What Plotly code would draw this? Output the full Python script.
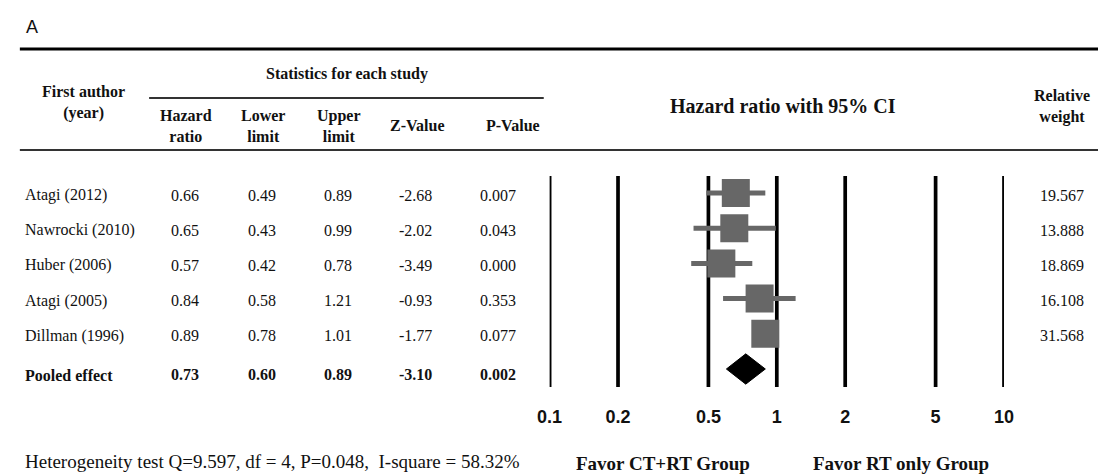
import numpy as np
import plotly.graph_objects as go

W, H = 1108, 476

# ---- study data ----
studies = ["Atagi (2012)", "Nawrocki (2010)", "Huber (2006)", "Atagi (2005)", "Dillman (1996)"]
hazard_ratio = [0.66, 0.65, 0.57, 0.84, 0.89]
lower_limit = [0.49, 0.43, 0.42, 0.58, 0.78]
upper_limit = [0.89, 0.99, 0.78, 1.21, 1.01]
z_value = [-2.68, -2.02, -3.49, -0.93, -1.77]
p_value = [0.007, 0.043, 0.000, 0.353, 0.077]
relative_weight = [19.567, 13.888, 18.869, 16.108, 31.568]

pooled_label = "Pooled effect"
pooled_hr = 0.73
pooled_lower = 0.60
pooled_upper = 0.89
pooled_z = -3.10
pooled_p = 0.002

tick_values = [0.1, 0.2, 0.5, 1, 2, 5, 10]
tick_labels = ["0.1", "0.2", "0.5", "1", "2", "5", "10"]

heterogeneity = "Heterogeneity test Q=9.597, df = 4, P=0.048,  I-square = 58.32%"
favor_left = "Favor CT+RT Group"
favor_right = "Favor RT only Group"

# ---- layout geometry (pixels) ----
ROW_TOP = 193.0      # centre of first study row
ROW_PITCH = 35.2     # distance between rows
PLOT_BOTTOM = 400.0  # bottom of the forest-plot area
X_LEFT, X_RIGHT = 548, 1012

SERIF = "Liberation Serif, Times New Roman, serif"
SANS = "Liberation Sans, Arial, sans-serif"
INK = "#111111"
GREY = "#676767"


def px(x):
    return x / W


def py(y):
    return 1 - y / H


n = len(studies)
rows = list(range(n))
pooled_row = n

fig = go.Figure()

# vertical reference lines at each tick value
vx, vy = [], []
for t in tick_values:
    vx += [t, t, None]
    vy += [-0.48, pooled_row + 0.51, None]
fig.add_trace(go.Scatter(x=vx, y=vy, mode="lines",
                         line=dict(color="black", width=3.7),
                         hoverinfo="skip", showlegend=False))

# confidence intervals
cx, cy = [], []
for lo, hi, r in zip(lower_limit, upper_limit, rows):
    cx += [lo, hi, None]
    cy += [r, r, None]
fig.add_trace(go.Scatter(x=cx, y=cy, mode="lines",
                         line=dict(color=GREY, width=5),
                         hoverinfo="skip", showlegend=False))

# point estimates
fig.add_trace(go.Scatter(x=hazard_ratio, y=rows, mode="markers",
                         marker=dict(symbol="square", size=28, color=GREY,
                                     line=dict(width=0)),
                         showlegend=False))

# pooled estimate diamond
half_h = 0.43
fig.add_trace(go.Scatter(
    x=[pooled_lower, pooled_hr, pooled_upper, pooled_hr, pooled_lower],
    y=[pooled_row, pooled_row - half_h, pooled_row, pooled_row + half_h, pooled_row],
    mode="lines", fill="toself", fillcolor="black",
    line=dict(color="black", width=1), showlegend=False))

annotations = []


def text(x, y, s, size=16, bold=False, family=SERIF, xanchor="center",
         yref="paper", yshift=0):
    annotations.append(dict(
        x=px(x), y=(py(y) if yref == "paper" else y), xref="paper", yref=yref,
        text=s, showarrow=False, xanchor=xanchor, yanchor="middle",
        yshift=yshift,
        font=dict(family=family, size=size, color=INK,
                  weight="bold" if bold else "normal")))


# panel letter
text(11, 27, "A", size=18, family=SANS, xanchor="left")

# headers
text(72, 102, "First author<br>(year)", size=16, bold=True)
text(341, 74, "Statistics for each study", size=16, bold=True)
col_x = [177, 255, 333, 413, 511]
col_head = ["Hazard<br>ratio", "Lower<br>limit", "Upper<br>limit", "Z-Value", "P-Value"]
for cxp, h in zip(col_x, col_head):
    text(cxp, 126, h, size=16, bold=True)
text(786, 106, "Hazard ratio with 95% CI", size=20, bold=True)
text(1071, 106, "Relative<br>weight", size=16, bold=True)

# table body
val_x = [176, 254, 332, 411, 495]
for r in rows:
    text(10, r, studies[r], xanchor="left", yref="y", yshift=-2)
    vals = [f"{hazard_ratio[r]:.2f}", f"{lower_limit[r]:.2f}", f"{upper_limit[r]:.2f}",
            f"{z_value[r]:.2f}", f"{p_value[r]:.3f}"]
    for xv, s in zip(val_x, vals):
        text(xv, r, s, yref="y", yshift=-2)
    text(1096, r, f"{relative_weight[r]:.3f}", xanchor="right", yref="y", yshift=-2)

pooled_vals = [f"{pooled_hr:.2f}", f"{pooled_lower:.2f}", f"{pooled_upper:.2f}",
               f"{pooled_z:.2f}", f"{pooled_p:.3f}"]
text(10, pooled_row, pooled_label, bold=True, xanchor="left", yref="y", yshift=-6)
for xv, s in zip(val_x, pooled_vals):
    text(xv, pooled_row, s, bold=True, yref="y", yshift=-5)

# footer
text(10, 461, heterogeneity, size=19, xanchor="left")
text(664, 463, favor_left, size=19, bold=True)
text(907, 463, favor_right, size=19, bold=True)

# horizontal rules
shapes = [
    dict(type="line", xref="paper", yref="paper", x0=px(7), x1=1, y0=py(49), y1=py(49),
         line=dict(color="black", width=3)),
    dict(type="line", xref="paper", yref="paper", x0=px(139), x1=px(542), y0=py(98), y1=py(98),
         line=dict(color="#333333", width=2)),
    dict(type="line", xref="paper", yref="paper", x0=px(7), x1=1, y0=py(150), y1=py(150),
         line=dict(color="#333333", width=2)),
]

y_bottom_val = (PLOT_BOTTOM - ROW_TOP) / ROW_PITCH
y_top_val = -ROW_TOP / ROW_PITCH

fig.update_layout(
    width=W, height=H,
    margin=dict(l=0, r=0, t=0, b=0),
    paper_bgcolor="white", plot_bgcolor="white",
    xaxis=dict(type="log", range=[np.log10(tick_values[0]), np.log10(tick_values[-1])],
               domain=[px(X_LEFT), px(X_RIGHT)],
               tickmode="array", tickvals=tick_values, ticktext=tick_labels,
               tickfont=dict(family=SANS, size=18, color=INK, weight="bold"),
               showgrid=False, zeroline=False, showline=False, ticks="",
               ticklabelstandoff=4),
    yaxis=dict(range=[y_bottom_val, y_top_val], domain=[1 - PLOT_BOTTOM / H, 1],
               showgrid=False, zeroline=False, showline=False,
               showticklabels=False, ticks=""),
    annotations=annotations,
    shapes=shapes,
    showlegend=False,
)

fig.write_html("out.html")
